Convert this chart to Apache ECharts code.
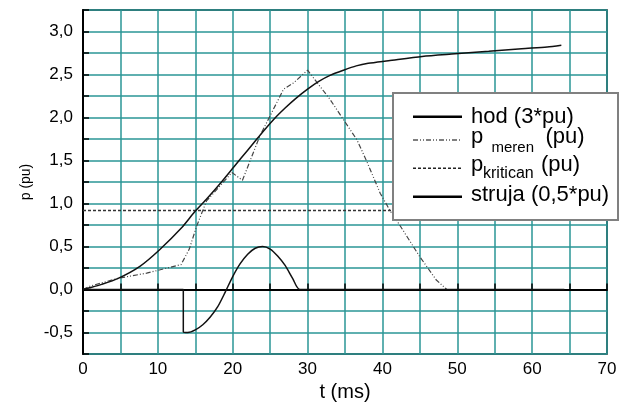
<!DOCTYPE html>
<html>
<head>
<meta charset="utf-8">
<script src="https://cdn.jsdelivr.net/npm/echarts@6/dist/echarts.min.js"></script>
<style>html,body{margin:0;padding:0;background:#fff}#c{width:628px;height:407px}</style>
</head>
<body>
<div id="c"></div>
<script>
// hod (3*pu)
const hod = [[0,0],[0.9,0.02],[2.5,0.06],[4.7,0.13],[7.6,0.27],[10.2,0.46],[13.3,0.73],[14.9,0.9],[16.6,1.06],[18.5,1.25],[20.2,1.43],[22,1.62],[23.7,1.8],[25.5,1.98],[27,2.11],[28.4,2.22],[30,2.33],[31.5,2.42],[33,2.49],[34.8,2.55],[36.5,2.6],[38.1,2.63],[40.8,2.66],[45.3,2.71],[49.7,2.74],[54.2,2.77],[58.6,2.8],[62,2.82],[63.9,2.84]];
// p meren (pu)
const pMeren = [[0,0],[1,0.04],[4.7,0.13],[8.5,0.19],[13.1,0.29],[14.2,0.47],[15.2,0.74],[16.5,1.03],[19.9,1.36],[21.3,1.27],[23.6,1.78],[26.8,2.33],[28.1,2.4],[30.0,2.55],[33.0,2.21],[36.6,1.74],[37.9,1.49],[39.7,1.12],[41.0,0.92],[42.3,0.75],[45.0,0.38],[47.2,0.11],[48.6,0]];
// p kritican (pu)
const pKritican = [[0,0.92],[64,0.92]];
// struja (0,5*pu)
const struja = [[0,0],[13.4,0],[13.4,-0.49],[14,-0.5],[15,-0.47],[16,-0.41],[17,-0.32],[18,-0.2],[19,-0.03],[20,0.15],[21,0.3],[22,0.41],[23,0.48],[24,0.5],[25,0.47],[26,0.39],[27,0.28],[28,0.13],[29,0],[64.3,0]];

const xMin = 0, xMax = 70, xStep = 5;
const yMin = -0.75, yMax = 3.25, yStep = 0.25;

const FONT = 'Liberation Sans, Arial, sans-serif';
const chart = echarts.init(document.getElementById('c'), null, {renderer: 'canvas'});

function fmtY(v){
  if (Math.abs(v*2 - Math.round(v*2)) > 1e-6) return '';
  return v.toFixed(1).replace('.', ',');
}
function fmtX(v){
  if (Math.abs(v/10 - Math.round(v/10)) > 1e-6) return '';
  return String(Math.round(v));
}

const lx1 = 413, lx2 = 462, tx = 471;
const rows = [116.7, 140, 168.3, 196.7];

chart.setOption({
  animation: false,
  backgroundColor: '#fff',
  grid: {left: 83, right: 21, top: 10, bottom: 53, containLabel: false, outerBoundsMode: 'none',
         show: true, borderColor: '#000', borderWidth: 1.5, backgroundColor: 'transparent'},
  xAxis: {
    type: 'value', min: xMin, max: xMax, interval: xStep,
    name: 't (ms)', nameLocation: 'middle', nameGap: 28,
    nameTextStyle: {fontFamily: FONT, fontSize: 20, color: '#000'},
    axisLine: {show: true, lineStyle: {color: '#000', width: 2}},
    axisTick: {show: true, inside: true, length: 6, lineStyle: {color: '#000', width: 1.5}},
    axisLabel: {formatter: fmtX, fontFamily: FONT, fontSize: 17, color: '#000', margin: 7, showMinLabel: true, showMaxLabel: true},
    splitLine: {show: true, lineStyle: {color: '#2a9696', width: 1.5}}
  },
  yAxis: {
    type: 'value', min: yMin, max: yMax, interval: yStep,
    name: 'p (pu)', nameLocation: 'middle', nameGap: 38, nameRotate: 90,
    nameTextStyle: {fontFamily: FONT, fontSize: 14, color: '#000'},
    axisLine: {show: true, lineStyle: {color: '#000', width: 2}},
    axisTick: {show: true, inside: true, length: 6, lineStyle: {color: '#000', width: 1.5}},
    axisLabel: {formatter: fmtY, fontFamily: FONT, fontSize: 17, color: '#000', margin: 10},
    splitLine: {show: true, lineStyle: {color: '#2a9696', width: 1.5}}
  },
  series: [
    {name: 'p kritican (pu)', type: 'line', data: pKritican, symbol: 'none', z: 3,
     lineStyle: {color: '#333', width: 1.5, type: [3, 2]}},
    {name: 'p meren (pu)', type: 'line', data: pMeren, symbol: 'none', z: 4,
     lineStyle: {color: '#444', width: 1.2, type: [5, 2, 1, 2, 1, 2]}},
    {name: 'struja (0,5*pu)', type: 'line', data: struja, symbol: 'none', z: 5, smooth: 0.25,
     lineStyle: {color: '#111', width: 1.5}},
    {name: 'hod (3*pu)', type: 'line', data: hod, symbol: 'none', z: 6, smooth: 0.25,
     lineStyle: {color: '#111', width: 1.5}}
  ],
  graphic: [
    {type: 'rect', z: 100, shape: {x: 393, y: 93, width: 225, height: 127},
     style: {fill: '#fff', stroke: '#808080', lineWidth: 2}},
    {type: 'line', z: 101, shape: {x1: lx1, y1: rows[0], x2: lx2, y2: rows[0]}, style: {stroke: '#000', lineWidth: 2.5}},
    {type: 'line', z: 101, shape: {x1: lx1, y1: rows[1], x2: lx2, y2: rows[1]}, style: {stroke: '#555', lineWidth: 1.5, lineDash: [5, 2, 1, 2, 1, 2]}},
    {type: 'line', z: 101, shape: {x1: lx1, y1: rows[2], x2: lx2, y2: rows[2]}, style: {stroke: '#222', lineWidth: 1.5, lineDash: [3, 2]}},
    {type: 'line', z: 101, shape: {x1: lx1, y1: rows[3], x2: lx2, y2: rows[3]}, style: {stroke: '#000', lineWidth: 2.5}},
    {type: 'text', z: 101, x: tx, y: 116.5, style: {text: 'hod (3*pu)', font: '22px ' + FONT, fill: '#000', verticalAlign: 'middle'}},
    {type: 'text', z: 101, x: tx, y: 136.5, style: {text: 'p', font: '22px ' + FONT, fill: '#000', verticalAlign: 'middle'}},
    {type: 'text', z: 101, x: 491.5, y: 147.5, style: {text: 'meren', font: '15px ' + FONT, fill: '#000', verticalAlign: 'middle'}},
    {type: 'text', z: 101, x: 545.5, y: 136.5, style: {text: '(pu)', font: '22px ' + FONT, fill: '#000', verticalAlign: 'middle'}},
    {type: 'text', z: 101, x: tx, y: 164.5, style: {text: 'p', font: '22px ' + FONT, fill: '#000', verticalAlign: 'middle'}},
    {type: 'text', z: 101, x: 483, y: 173.5, style: {text: 'kritican', font: '16px ' + FONT, fill: '#000', verticalAlign: 'middle'}},
    {type: 'text', z: 101, x: 541, y: 164.5, style: {text: '(pu)', font: '22px ' + FONT, fill: '#000', verticalAlign: 'middle'}},
    {type: 'text', z: 101, x: tx, y: 194.5, style: {text: 'struja (0,5*pu)', font: '22px ' + FONT, fill: '#000', verticalAlign: 'middle'}}
  ]
});
</script>
</body>
</html>
